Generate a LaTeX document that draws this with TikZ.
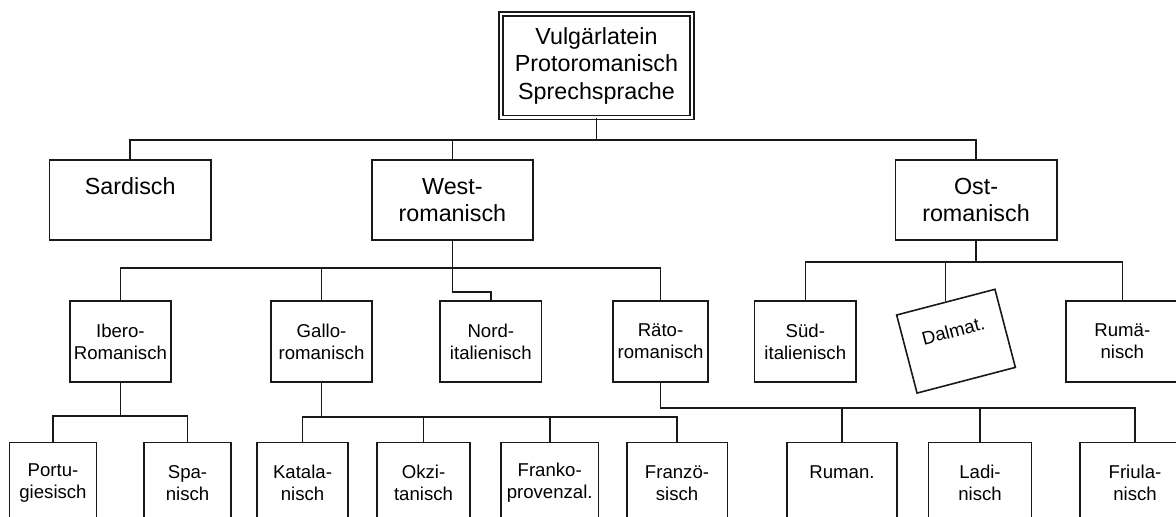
\documentclass[tikz,border=0pt]{standalone}
\usepackage{fontspec}
\setmainfont{Liberation Sans}

\begin{document}
\begin{tikzpicture}[
    x=0.5pt, y=-0.5pt,
    every node/.style={font=\fontsize{9.3}{11}\selectfont},
    langbox/.style={rectangle, draw=black!90, line width=0.8pt, align=center, inner sep=0pt, minimum width=50.5pt, minimum height=40.35pt},
    groupbox/.style={langbox, minimum width=80.7pt, minimum height=40pt, font=\fontsize{11.65}{13.8}\selectfont},
    originbox/.style={groupbox, double, double distance=1.3pt, line width=0.7pt, minimum width=95.35pt, minimum height=51.75pt},
    branch/.style={line width=0.8pt, draw=black!90}
]
\useasboundingbox (0,0) rectangle (1176,517);
\clip (0,0) rectangle (1176,517);

% Nodes
\node[originbox] (vulg) at (596.5,65.6) {Vulgärlatein\\Protoromanisch\\Sprechsprache};

\node[groupbox] (sard) at (130.2,200) {Sardisch\\~};
\node[groupbox] (west) at (452.4,200) {West-\\romanisch};
\node[groupbox] (ost)  at (976,200)   {Ost-\\romanisch};

\node[langbox] (ibero) at (120.4,341.4) {Ibero-\\Romanisch};
\node[langbox] (gallo) at (321.5,341.4) {Gallo-\\romanisch};
\node[langbox, minimum width=50.75pt] (nord) at (490.8,341.4) {Nord-\\italienisch};
\node[langbox, minimum width=47.25pt] (raeto) at (660.5,341.4) {Räto-\\romanisch};
\node[langbox, minimum width=50.7pt] (sued) at (805.3,341.4) {Süd-\\italienisch};
\node[langbox, minimum width=50.8pt, rotate=14.65] (dalm) at (956,341.2) {Dalmat.\\~};
\node[langbox, minimum width=56.3pt] (rumae) at (1122.3,341.4) {Rumä-\\nisch};

\node[langbox, minimum width=43.65pt] (portu) at (53,482.7)    {Portu-\\giesisch};
\node[langbox, minimum width=43.65pt] (spa)   at (187.5,482.7) {Spa-\\nisch};
\node[langbox, minimum width=45.5pt]  (katal) at (302.5,482.7) {Katala-\\nisch};
\node[langbox, minimum width=46.5pt]  (okzi)  at (423.5,482.7) {Okzi-\\tanisch};
\node[langbox, minimum width=48.7pt]  (frpr)  at (549.7,482.7) {Franko-\\provenzal.};
\node[langbox, minimum width=50.3pt]  (franz) at (677,482.7)   {Franzö-\\sisch};
\node[langbox, minimum width=55.15pt] (ruman) at (842,482.7)   {Ruman.\\~};
\node[langbox, minimum width=51.65pt] (ladin) at (980,482.7)   {Ladi-\\nisch};
\node[langbox, minimum width=55pt]    (friul) at (1135,482.7)  {Friula-\\nisch};

% Paths
\coordinate (bar0) at (0,140);
\draw[branch] (vulg.south) -- (vulg.south |- bar0);
\draw[branch] (sard.north) |- (ost.north |- bar0) -- (ost.north);
\draw[branch] (west.north) -- (west.north |- bar0);

\coordinate (bar1) at (0,268.3);
\draw[branch] (ibero.north) |- (raeto.north |- bar1) -- (raeto.north);
\draw[branch] (gallo.north) -- (gallo.north |- bar1);
\draw[branch] (west.south) -- ++(0,51) -| (nord.north);

\coordinate (bar2) at (0,262.3);
\draw[branch] (ost.south) -- (ost.south |- bar2);
\draw[branch] (sued.north) |- (rumae.north |- bar2) -- (rumae.north);
\draw[branch] (dalm.north |- bar2) -- (dalm.north);

\coordinate (bar3) at (0,416.3);
\draw[branch] (ibero.south) -- (ibero.south |- bar3);
\draw[branch] (portu.north) |- (spa.north |- bar3) -- (spa.north);

\coordinate (bar4) at (0,417.3);
\draw[branch] (gallo.south) -- (gallo.south |- bar4);
\draw[branch] (katal.north) |- (franz.north |- bar4) -- (franz.north);
\draw[branch] (okzi.north) -- (okzi.north |- bar4);
\draw[branch] (frpr.north) -- (frpr.north |- bar4);

\coordinate (bar5) at (0,408);
\draw[branch] (raeto.south) |- (friul.north |- bar5) -- (friul.north);
\draw[branch] (ruman.north) -- (ruman.north |- bar5);
\draw[branch] (ladin.north) -- (ladin.north |- bar5);

\end{tikzpicture}
\end{document}
